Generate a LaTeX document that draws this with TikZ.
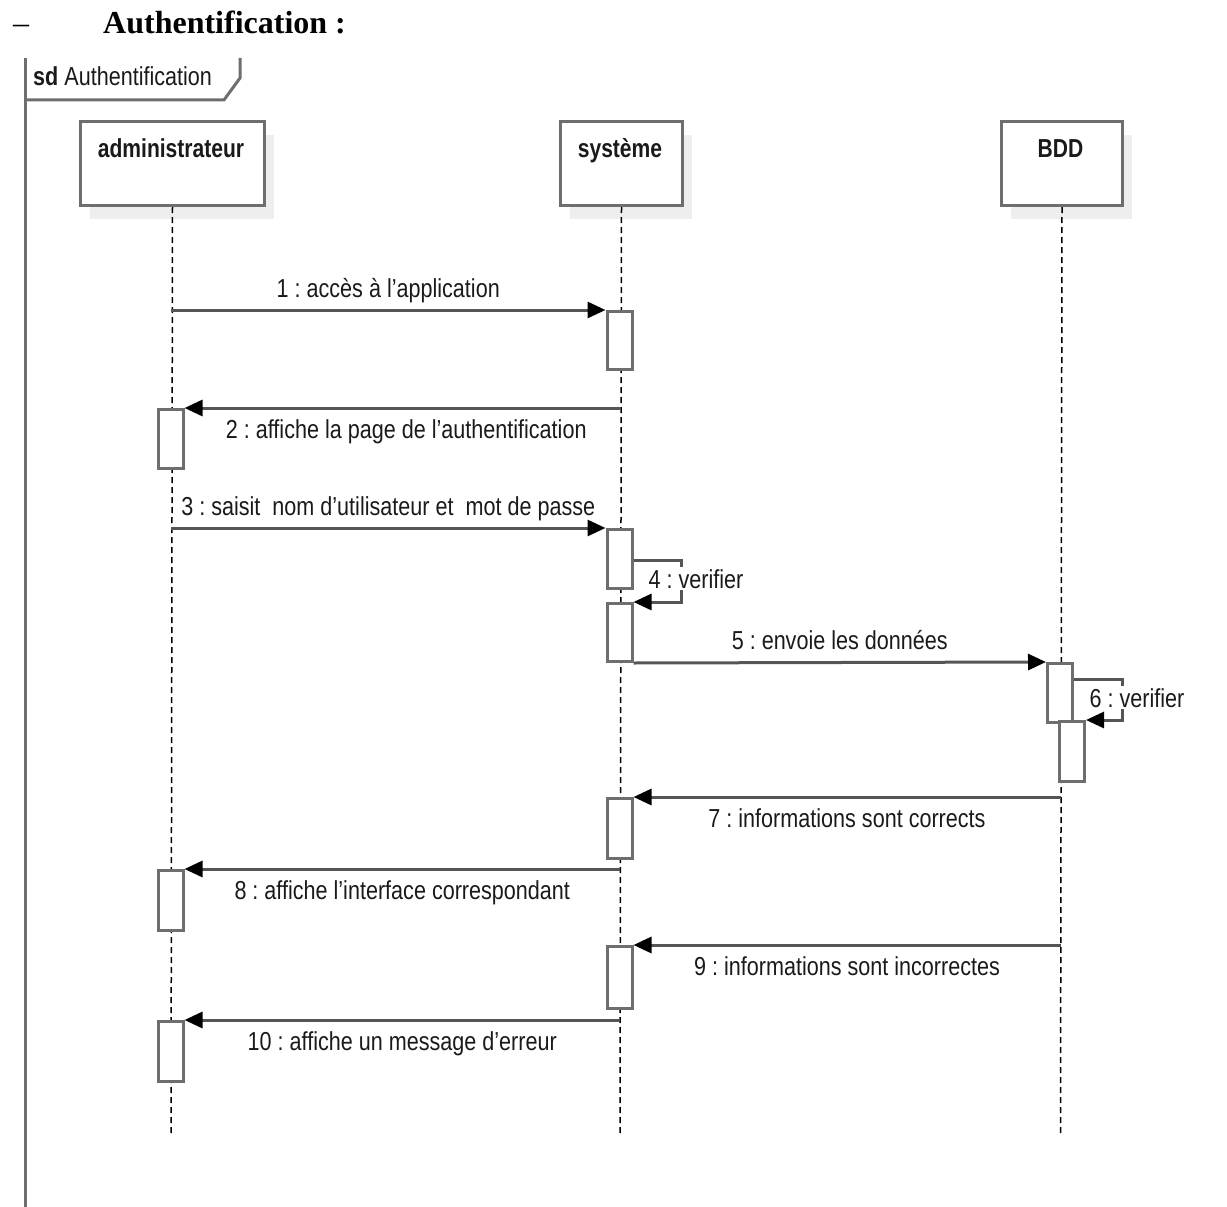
\documentclass[tikz,border=0pt]{standalone}
\usepackage{fontspec}
\setmainfont{Liberation Serif}
\newfontfamily\lab[FakeStretch=0.83]{Liberation Sans}
\newfontfamily\headf[FakeStretch=0.81]{Liberation Sans}
\frenchspacing
\usetikzlibrary{arrows.meta}
\definecolor{boxline}{HTML}{6E6E6E}
\definecolor{msgline}{HTML}{555555}
\definecolor{shadowc}{HTML}{EEEEEE}
\definecolor{txt}{HTML}{1A1A1A}
\tikzset{
  headbox/.style={draw=boxline, line width=3pt, fill=white, minimum height=84pt, inner sep=0pt, anchor=north west},
  headshadow/.style={fill=shadowc, draw=none, minimum height=84pt, inner sep=0pt, anchor=north west},
  headtext/.style={anchor=base, inner sep=0pt, text=txt, font=\headf\fontsize{26}{30}\selectfont\bfseries},
  lifeline/.style={draw=black, line width=1.5pt, dash pattern=on 6pt off 4pt},
  act/.style={draw=boxline, line width=3pt, fill=white, minimum width=25pt, inner sep=0pt, anchor=north},
  msg/.style={draw=msgline, line width=3pt, -{Triangle[length=18pt, width=16pt, black]}},
  lblabove/.style={anchor=base, yshift=13pt, inner sep=1pt, text=txt, font=\lab\fontsize{26}{30}\selectfont},
  lblbelow/.style={anchor=base, yshift=-30pt, inner sep=1pt, text=txt, font=\lab\fontsize{26}{30}\selectfont},
  selflbl/.style={anchor=base, inner sep=2pt, fill=white, text=txt, font=\lab\fontsize{26}{30}\selectfont},
  frameline/.style={draw=boxline, line width=3pt}
}
\begin{document}
\begin{tikzpicture}[x=1pt,y=-1pt]
\useasboundingbox (0,0) rectangle (1227,1207);

% heading
\node[anchor=base west, inner sep=0pt, font=\fontsize{32}{36}\selectfont] (dash) at (13,34) {–};
\node[anchor=base west, inner sep=0pt, font=\fontsize{32}{36}\selectfont\bfseries] (title) at (103,34) {Authentification :};

% frame
\coordinate (fbot) at (25,1207);
\coordinate (ftop) at (25,58);
\coordinate (tabA) at (25,100);
\coordinate (tabB) at (224,100);
\coordinate (tabC) at (240,78);
\coordinate (tabD) at (240,58);
\draw[frameline] (fbot) -- (ftop);
\draw[frameline, line join=miter] (tabA) -- (tabB) -- (tabC) -- (tabD);
\node[anchor=base west, inner sep=0pt, text=txt, font=\lab\fontsize{26}{30}\selectfont] (sd) at (33,85) {\textbf{sd} Authentification};

% lifeline heads (shadows first)
\node[headshadow, minimum width=184pt] (adminsh) at (90,135) {};
\node[headshadow, minimum width=122pt] (syssh) at (570,135) {};
\node[headshadow, minimum width=121pt] (bddsh) at (1011,135) {};
\node[headbox, minimum width=184pt] (admin) at (79,120) {};
\node[headbox, minimum width=122pt] (sys) at (559,120) {};
\node[headbox, minimum width=121pt] (bdd) at (1000,120) {};
\node[headtext] (admint) at (171,157) {administrateur};
\node[headtext] (syst) at (620,157) {système};
\node[headtext] (bddt) at (1060.5,157) {BDD};

% lifelines
\coordinate (adminend) at (171,1135);
\coordinate (sysend) at (620,1135);
\coordinate (bddend) at (1060.5,1135);
\draw[lifeline] (admin.south) -- (adminend);
\draw[lifeline] (sys.south) -- (sysend);
\draw[lifeline] (bdd.south) -- (bddend);

% activations
\node[act, minimum height=58pt] (s1) at (619.5,310) {};
\node[act, minimum height=59pt] (a1) at (170.5,408) {};
\node[act, minimum height=59pt] (s2) at (619.5,528) {};
\node[act, minimum height=58pt] (s3) at (619.5,602) {};
\node[act, minimum height=59pt] (b1) at (1060,662) {};
\node[act, minimum height=60pt] (b2) at (1072,720) {};
\node[act, minimum height=60pt] (s4) at (619.5,797) {};
\node[act, minimum height=60pt] (a2) at (170.5,869) {};
\node[act, minimum height=62pt] (s5) at (619.5,945) {};
\node[act, minimum height=60pt] (a3) at (170.5,1020) {};

% message start points
\coordinate (m1s) at (171,310);
\coordinate (m2s) at (620,408);
\coordinate (m3s) at (171,528);
\coordinate (m4a) at (681,560);
\coordinate (m4b) at (681,602);
\coordinate (m6a) at (1122,679);
\coordinate (m6b) at (1122,720);
\coordinate (m7s) at (1060.5,797);
\coordinate (m8s) at (620,869);
\coordinate (m9s) at (1060.5,945);
\coordinate (m10s) at (620,1020);

% messages
\draw[msg] (m1s) -- node[lblabove] (l1) {1 : accès à l’application} (s1.north west);
\draw[msg] (m2s) -- node[lblbelow, xshift=4pt] (l2) {2 : affiche la page de l’authentification} (a1.north east);
\draw[msg] (m3s) -- node[lblabove] (l3) {3 : saisit\ \ nom d’utilisateur et\ \ mot de passe} (s2.north west);
\draw[msg] (s2.east |- m4a) -- (m4a) -- (m4b) -- (s3.north east);
\node[selflbl] (l4) at (696,588) {4 : verifier};
\draw[msg] (s3.south east) -- node[lblabove] (l5) {5 : envoie les données} (b1.north west);
\draw[msg] (b1.east |- m6a) -- (m6a) -- (m6b) -- (b2.north east);
\node[selflbl] (l6) at (1137,707) {6 : verifier};
\draw[msg] (m7s) -- node[lblbelow] (l7) {7 : informations sont corrects} (s4.north east);
\draw[msg] (m8s) -- node[lblbelow] (l8) {8 : affiche l’interface correspondant} (a2.north east);
\draw[msg] (m9s) -- node[lblbelow] (l9) {9 : informations sont incorrectes} (s5.north east);
\draw[msg] (m10s) -- node[lblbelow] (l10) {10 : affiche un message d’erreur} (a3.north east);
\end{tikzpicture}
\end{document}
